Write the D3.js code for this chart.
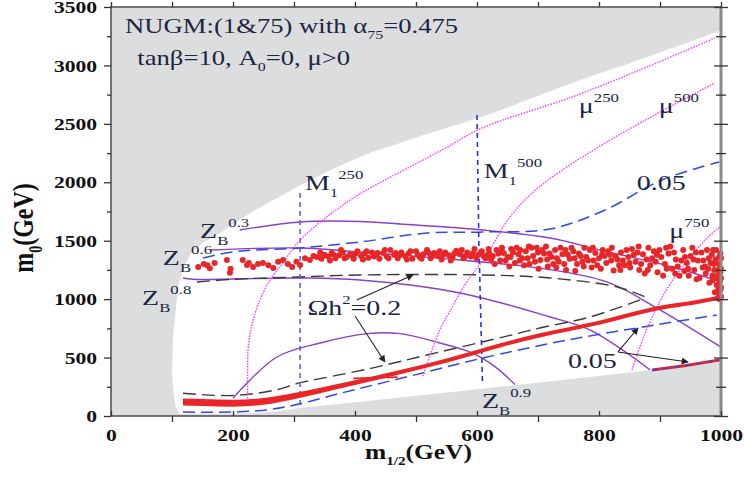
<!DOCTYPE html>
<html>
<head>
<meta charset="utf-8">
<script src="https://cdn.jsdelivr.net/npm/d3@7"></script>
<style>
  html, body { margin: 0; padding: 0; background: #fff; }
  svg { display: block; }
</style>
</head>
<body>
<div id="chart"></div>
<script>
(function() {
    'use strict';

    // ---- data (GeV) ----
    var xTicks = [0, 200, 400, 600, 800, 1000];
    var yTicks = [0, 500, 1000, 1500, 2000, 2500, 3000, 3500];

    // allowed (white) region, clockwise from the left edge
    var allowedRegion = [[108,1000],[110,1070],[112,1140],[116,1220],[122,1300],[132,1400],[150,1480],[179,1566],
        [228,1737],[270,1860],[305,1960],[350,2080],[390,2175],[428,2259],[470,2330],[510,2400],[550,2465],[592,2533],
        [635,2610],[675,2690],[715,2770],[756,2850],[800,2930],[840,3000],[880,3075],[920,3149],[960,3225],[1000,3300],
        [1000,460],[884,392],[638,250],[428,132],[310,68],[285,48],[260,35],[230,24],[200,20],[113,18],[106,80],[104,150],
        [101,280],[100,400],[101,550],[102,700],[105,850]];

    var m1_250 = [[310,94],[310,1930]];
    var m1_500 = [[600,2576],[603,1500],[609,282]];

    var mu250 = [[224,150],[224,400],[225,590],[232,800],[244,993],[261,1164],[280,1300],[297,1420],[310,1506],
        [343,1660],[392,1848],[428,1960],[544,2280],[608,2464],[756,2730],[880,2990],[990,3235]];
    var mu500 = [[511,340],[539,736],[554,881],[580,1121],[616,1380],[654,1703],[702,1960],[810,2336],[990,2850]];
    var mu750 = [[854,394],[875,700],[895,933],[921,1164],[974,1506],[998,1617]];

    var zb03 = [[211,1592],[310,1660],[408,1665],[474,1643],[610,1592],[720,1523],[802,1420],[921,1275],[1000,1147]];
    var zb06 = [[162,1420],[310,1438],[408,1403],[572,1335],[703,1265],[813,1147],[895,924],[1000,590]];
    var zb08 = [[118,1181],[134,1170],[310,1181],[408,1164],[572,1053],[720,847],[785,736],[884,394]];
    var zb09 = [[200,154],[272,505],[343,625],[420,705],[474,705],[539,625],[592,540],[630,420],[662,270]];

    var omega005Upper = [[151,1352],[200,1405],[310,1438],[408,1489],[518,1566],[610,1575],[720,1600],[810,1763],[903,2020],[997,2174]];
    var omega005Lower = [[118,34],[200,34],[260,55],[310,105],[380,200],[450,290],[520,380],[580,460],[638,530],[748,650],[872,762],[993,864]];
    var omega005Edge = [[887,394],[940,430],[998,479]];
    var omega02Upper = [[141,1147],[200,1170],[310,1190],[408,1207],[610,1207],[720,1181],[830,1104],[880,1010]];
    var omega02Lower = [[118,195],[200,175],[272,225],[310,285],[343,320],[428,410],[518,522],[654,690],[703,753],[785,847],[867,993]];

    // relic density points: thin band near the lower boundary ...
    var bandX  = [118,150,200,250,300,343,400,474,550,638,703,802,895,960,1000];
    var bandLo = [90,85,80,97,144,195,265,358,456,587,672,782,903,957,996];
    var bandHi = [150,145,140,153,196,241,305,394,492,623,708,818,939,993,1034];
    var bandPiece = [[397,322],[470,333]];
    // ... and the scattered strip around m0 ~ 1350 GeV
    var cloudPts = [
        [143,1275],[152,1300],[158,1290],[162,1265],[170,1310],[190,1335],[195,1225],[196,1260],[216,1335],[223,1292],
        [226,1310],[233,1275],[241,1300],[249,1309],[258,1290],[266,1267],[274,1320],[282,1335],[290,1300],[297,1275],
        [304,1320],[310,1292],[318,1350],[326,1335],[332,1370],[338,1360],
        [345,1345],[350,1380],[356,1365],[362,1395],[368,1350],[374,1375],[380,1400],[386,1360],[392,1385],[398,1345],
        [404,1410],[410,1370],[416,1390],[422,1355],[428,1400],[434,1375],[440,1345],[446,1395],[452,1365],[458,1420],
        [464,1380],[470,1350],[476,1400],[482,1370],[488,1390],[494,1345],[500,1410],[506,1360],[512,1385],[518,1420],
        [524,1350],[530,1395],[536,1370],[542,1340],[548,1400],[554,1375],[560,1355],[566,1415],[572,1385],[578,1350],
        [584,1400],[590,1365],[596,1430],[602,1380],[608,1410],[614,1350],[620,1395],
        [343,1400],[359,1330],[377,1420],[395,1370],[413,1340],[431,1365],[449,1420],[467,1395],[485,1340],[503,1380],
        [521,1395],[539,1410],[557,1330],[575,1420],[593,1390],[611,1370],[619,1430],
        [347,1370],[365,1380],[383,1350],[401,1390],[419,1410],[437,1395],[455,1350],[473,1375],[491,1410],[509,1345],
        [527,1375],[545,1380],[563,1390],[581,1370],[599,1350],[617,1375],
        [626,1370],[632,1420],[638,1330],[644,1395],[650,1360],[656,1430],[662,1310],[668,1385],[674,1350],[680,1410],
        [686,1300],[692,1370],[698,1440],[704,1335],[710,1390],[716,1280],[722,1360],[728,1420],[734,1320],[740,1385],
        [746,1250],[752,1345],[758,1410],[764,1300],[770,1370],[776,1440],[782,1330],[788,1270],[794,1395],[800,1350],
        [806,1420],[812,1310],[818,1380],[824,1245],[830,1340],[836,1400],[842,1290],[848,1360],[854,1430],[860,1320],
        [866,1250],[872,1385],[878,1340],[884,1290],[890,1410],[896,1230],[902,1360],[908,1300],[914,1390],[920,1260],
        [926,1340],[932,1200],[938,1420],[944,1310],[950,1370],[956,1250],[962,1330],[968,1400],[974,1280],[980,1350],
        [986,1200],[992,1420],[996,1300],[998,1150],[999,1080],[997,1040],[993,1120],[989,1250],[985,1380],[999,1390],
        [999,1230],
        [629,1300],[641,1440],[653,1280],[665,1440],[677,1290],[689,1440],[701,1260],[713,1450],[725,1300],[737,1440],
        [749,1380],[761,1240],[773,1320],[785,1420],[797,1290],[809,1370],[821,1440],[833,1290],[845,1420],[857,1380],
        [869,1300],[881,1440],[893,1320],[905,1200],[917,1450],[929,1280],[941,1360],[953,1440],[965,1180],[977,1420],
        [983,1310],[991,1340],[995,1250],[1000,1350],[1000,1180],[1000,1100],[995,1010],[990,1060],[986,1160],[975,1220],
        [960,1170],[946,1260],
        [623,1340],[635,1390],[647,1330],[659,1400],[671,1420],[683,1350],[695,1320],[707,1420],[719,1390],[731,1350],
        [743,1300],[755,1440],[767,1390],[779,1360],[791,1330],[803,1260],[815,1410],[827,1370],[839,1330],[851,1270],
        [863,1400],[875,1220],[887,1350],[899,1420],[911,1260],[923,1400],[935,1330],[947,1200],[959,1400],[971,1330],
        [979,1260],[987,1420],[993,1180],[997,1360],[1000,1260],[1000,1020],[998,1000],[996,1090],[994,1200],[988,1300],
        [981,1140],[970,1270],[955,1340],[940,1240],[925,1220],[910,1440],[895,1380],[880,1250],[865,1450],[850,1310],
        [835,1250],[820,1330],[805,1380],[790,1440],[775,1280],[760,1350],[745,1420],[730,1270],[715,1340],[700,1400],
        [685,1450],[670,1330],[655,1360],[640,1400]];

    var arrows = [
        [[403,993],[495,1207]],
        [[400,856],[449,462]],
        [[831,548],[864,753]],
        [[831,548],[946,462]]
    ];

    // ---- layout ----
    var width = 744, height = 479;
    var SX = 1.27;   // the picture's glyphs are stretched sideways
    var x = d3.scaleLinear().domain([0, 1000]).range([111, 721]);
    var y = d3.scaleLinear().domain([0, 3500]).range([416, 7]);
    var ink = '#1c2541';
    var red = '#e8262a';

    var svg = d3.select('#chart').append('svg')
        .attr('width', width)
        .attr('height', height)
        .attr('font-family', '"Liberation Serif", "Times New Roman", serif');

    svg.append('defs').append('marker')
        .attr('id', 'arrow')
        .attr('viewBox', '0 0 10 10')
        .attr('refX', 9).attr('refY', 5)
        .attr('markerWidth', 9).attr('markerHeight', 7)
        .attr('markerUnits', 'userSpaceOnUse')
        .attr('orient', 'auto')
      .append('path')
        .attr('d', 'M0,0L10,5L0,10Z')
        .attr('fill', '#222');

    var line = d3.line().x(function(d) { return x(d[0]); }).y(function(d) { return y(d[1]); });
    var smooth = d3.line().curve(d3.curveCatmullRom)
        .x(function(d) { return x(d[0]); }).y(function(d) { return y(d[1]); });

    // excluded region (grey) and allowed region (white)
    svg.append('rect')
        .attr('x', x(0)).attr('y', y(3500))
        .attr('width', x(1000) - x(0)).attr('height', y(0) - y(3500))
        .attr('fill', '#dcdddf');

    svg.append('path')
        .attr('d', d3.line().curve(d3.curveLinearClosed)
            .x(function(d) { return x(d[0]); }).y(function(d) { return y(d[1]); })(allowedRegion))
        .attr('fill', '#fff');

    function curve(data, color, dash, w, gen) {
        svg.append('path')
            .attr('d', (gen || smooth)(data))
            .attr('fill', 'none')
            .attr('stroke', color)
            .attr('stroke-width', w || 1.4)
            .attr('stroke-dasharray', dash || null);
    }

    // Z_B contours
    [zb03, zb06, zb08, zb09].forEach(function(d) { curve(d, '#8a3fcf', null, 1.4); });

    // relic density contours
    curve(omega005Upper, '#3346e6', '12,6', 1.5);
    curve(omega005Lower, '#3346e6', '12,6', 1.5);
    curve(omega02Upper, '#3a3a3a', '13,6', 1.4);
    curve(omega02Lower, '#3a3a3a', '13,6', 1.4);

    // mass contours
    curve(m1_250, '#4d5cf0', '5,4', 1.5, line);
    curve(m1_500, '#2233ee', '5,4', 1.6, line);
    curve(mu250, '#ff40ff', '1.6,1.2', 1.4);
    curve(mu500, '#ff40ff', '1.6,1.2', 1.4);
    curve(mu750, '#ff40ff', '1.6,1.2', 1.4);

    // relic density points
    svg.append('path')
        .attr('d', d3.area().curve(d3.curveMonotoneX)
            .x(function(d, i) { return x(bandX[i]); })
            .y0(function(d, i) { return y(bandLo[i]); })
            .y1(function(d, i) { return y(bandHi[i]); })(bandX))
        .attr('fill', red);
    curve(bandPiece, red, null, 1.6, line);
    curve(omega005Edge, red, null, 3, line);
    curve(omega005Edge, '#3346e6', '6,5', 1.4, line);

    svg.append('g').selectAll('circle')
        .data(cloudPts)
      .enter().append('circle')
        .attr('cx', function(d) { return x(d[0]); })
        .attr('cy', function(d) { return y(d[1]); })
        .attr('r', 3)
        .attr('fill', red);

    // arrows
    arrows.forEach(function(a) {
        svg.append('path')
            .attr('d', line(a))
            .attr('stroke', '#222')
            .attr('stroke-width', 1.1)
            .attr('fill', 'none')
            .attr('marker-end', 'url(#arrow)');
    });

    // labels with sub/superscripts
    function rich(px, py, parts, size, attrs) {
        var t = svg.append('text')
            .attr('transform', 'translate(' + px + ',' + py + ') scale(' + SX + ',1)')
            .attr('font-size', size)
            .attr('fill', ink);
        if (attrs) Object.keys(attrs).forEach(function(k) { t.attr(k, attrs[k]); });
        var shift = 0;
        parts.forEach(function(p) {
            var s = typeof p === 'string' ? p : p[0];
            var k = typeof p === 'string' ? '' : p[1];
            var target = k === 'sup' ? -size * 0.5 : k === 'sub' ? size * 0.3 : 0;
            t.append('tspan')
                .attr('dy', target - shift)
                .attr('font-size', k ? size * 0.6 : size)
                .text(s);
            shift = target;
        });
        return t;
    }
    function at(d, parts, size, attrs) { return rich(x(d[0]), y(d[1]), parts, size, attrs); }

    at([23, 3277], ['NUGM:(1&75) with α', ['75', 'sub'], '=0.475'], 21);
    at([43, 3004], ['tanβ=10, A', ['0', 'sub'], '=0, μ>0'], 21);

    at([318, 1934], ['M', ['1', 'sub'], ['250', 'sup']], 22);
    at([611, 2037], ['M', ['1', 'sub'], ['500', 'sup']], 22);
    at([767, 2593], ['μ', ['250', 'sup']], 22);
    at([898, 2593], ['μ', ['500', 'sup']], 22);
    at([915, 1523], ['μ', ['750', 'sup']], 22);
    at([862, 1934], ['0.05'], 22);
    at([146, 1523], ['Z', ['B', 'sub'], ['0.3', 'sup']], 22);
    at([85, 1292], ['Z', ['B', 'sub'], ['0.6', 'sup']], 22);
    at([51, 950], ['Z', ['B', 'sub'], ['0.8', 'sup']], 22);
    at([608, 68], ['Z', ['B', 'sub'], ['0.9', 'sup']], 22);
    at([322, 864], ['Ωh', ['2', 'sup'], '=0.2'], 22);
    at([749, 411], ['0.05'], 22);

    // frame and axes
    svg.append('rect')
        .attr('x', x(0)).attr('y', y(3500))
        .attr('width', x(1000) - x(0)).attr('height', y(0) - y(3500))
        .attr('fill', 'none')
        .attr('stroke', '#555')
        .attr('stroke-width', 1.6);
    svg.append('line')
        .attr('x1', x(1000)).attr('x2', x(1000))
        .attr('y1', y(3500)).attr('y2', y(0))
        .attr('stroke', '#8a8a8a').attr('stroke-width', 3);

    function ticks(axis, pos, len, values) {
        svg.append('g')
            .attr('transform', pos)
            .call(axis.tickValues(values).tickSize(len).tickFormat(''))
            .call(function(g) { g.select('.domain').remove(); })
            .selectAll('line').attr('stroke', '#333').attr('stroke-width', 1.3);
    }
    var xMinor = d3.range(100, 1000, 200);
    var yMinor = d3.range(250, 3500, 500);
    ticks(d3.axisBottom(x), 'translate(0,' + y(0) + ')', 6, xMinor);
    ticks(d3.axisBottom(x), 'translate(0,' + y(0) + ')', -5, xTicks);
    ticks(d3.axisTop(x), 'translate(0,' + y(3500) + ')', 5, d3.range(0, 1001, 100));
    ticks(d3.axisLeft(y), 'translate(' + x(0) + ',0)', 7, yTicks);
    ticks(d3.axisLeft(y), 'translate(' + x(0) + ',0)', 4, yMinor);
    ticks(d3.axisRight(y), 'translate(' + (x(1000) - 7) + ',0)', 14, yTicks);
    ticks(d3.axisRight(y), 'translate(' + (x(1000) - 5) + ',0)', 10, yMinor);

    var xAxis = svg.append('g')
        .attr('transform', 'translate(0,' + y(0) + ')')
        .call(d3.axisBottom(x).tickValues(xTicks).tickSize(0).tickFormat(d3.format('d')));
    xAxis.select('.domain').remove();
    xAxis.selectAll('text')
        .attr('y', 25).attr('dy', null)
        .attr('transform', 'scale(' + SX + ',1)')
        .attr('font-size', 17).attr('font-weight', 'bold')
        .attr('font-family', '"Liberation Serif", serif').attr('fill', '#111');

    var yAxis = svg.append('g')
        .attr('transform', 'translate(' + x(0) + ',0)')
        .call(d3.axisLeft(y).tickValues(yTicks).tickSize(0).tickFormat(d3.format('d')));
    yAxis.select('.domain').remove();
    yAxis.selectAll('text')
        .attr('x', -11).attr('dy', '0.33em')
        .attr('transform', 'scale(' + SX + ',1)')
        .attr('font-size', 17).attr('font-weight', 'bold')
        .attr('font-family', '"Liberation Serif", serif').attr('fill', '#111');

    rich(365, 459, ['m', ['1/2', 'sub'], '(GeV)'], 20, { 'font-weight': 'bold', 'fill': '#111' });
    var yt = svg.append('text')
        .attr('transform', 'translate(33,228) scale(' + SX + ',1) rotate(-90)')
        .attr('font-size', 24).attr('font-weight', 'bold').attr('fill', '#111')
        .attr('text-anchor', 'middle');
    yt.append('tspan').text('m');
    yt.append('tspan').attr('dy', 7).attr('font-size', 14).text('0');
    yt.append('tspan').attr('dy', -7).text('(GeV)');
})();
</script>
</body>
</html>
